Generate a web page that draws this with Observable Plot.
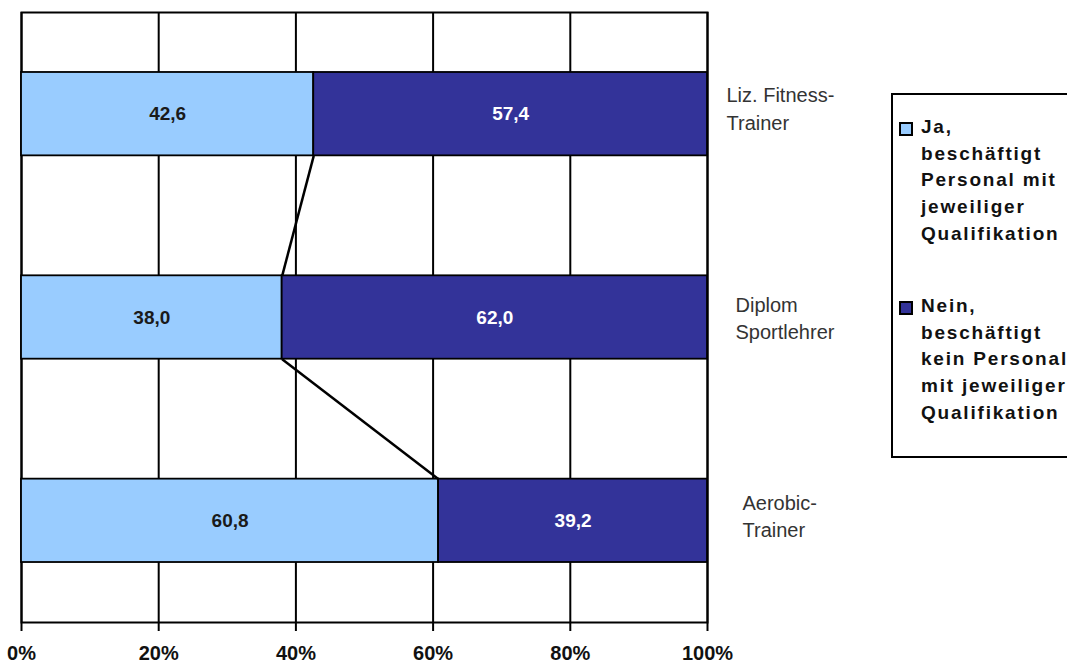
<!DOCTYPE html>
<html>
<head>
<meta charset="utf-8">
<script src="https://cdn.jsdelivr.net/npm/d3@7"></script>
<script src="https://cdn.jsdelivr.net/npm/@observablehq/plot@0.6"></script>
<style>
  html, body { margin: 0; padding: 0; background: #fff; }
  #wrap { position: relative; width: 1067px; height: 663px; overflow: hidden; }
  #legend {
    position: absolute; left: 891px; top: 93px; width: 200px; height: 365px;
    border: 2px solid #000; box-sizing: border-box; background: #fff;
    font-family: "Liberation Sans", Arial, sans-serif; font-weight: bold;
    font-size: 19px; letter-spacing: 1.8px; color: #111;
  }
  .item { position: absolute; left: 28px; white-space: pre; line-height: 26.7px; }
  .sw { position: absolute; left: -22px; top: 8px; width: 10px; height: 10px; border: 2px solid #000; }
</style>
</head>
<body>
<div id="wrap"><div id="chart"></div><div id="legend"></div></div>
<script>
const categories = ["Liz. Fitness-\nTrainer", "Diplom\nSportlehrer", "Aerobic-\nTrainer"];
const jaValues = [42.6, 38.0, 60.8];
const neinValues = [57.4, 62.0, 39.2];
const seriesNames = ["Ja,\nbeschäftigt\nPersonal mit\njeweiliger\nQualifikation",
                     "Nein,\nbeschäftigt\nkein Personal\nmit jeweiliger\nQualifikation"];
const seriesColors = ["#99CCFF", "#333399"];
const xTicks = [0, 20, 40, 60, 80, 100];

const half = 0.205; // half bar thickness in category units
const labelDx = [19, 28, 35];
const labelDy = [-7, -1, -6];
const FONT = "Liberation Sans, Arial, sans-serif";

const rows = [];
categories.forEach((c, i) => {
  rows.push({i, cat: c, series: 0, x1: 0, x2: jaValues[i], v: jaValues[i]});
  rows.push({i, cat: c, series: 1, x1: jaValues[i], x2: jaValues[i] + neinValues[i], v: neinValues[i]});
});
const links = [];
for (let i = 0; i < categories.length - 1; i++) {
  links.push({x1: jaValues[i], y1: i + half, x2: jaValues[i + 1], y2: i + 1 - half});
}
const fmt = v => v.toFixed(1).replace(".", ",");

const chart = Plot.plot({
  width: 1067,
  height: 663,
  marginLeft: 21,
  marginRight: 360,
  marginTop: 12,
  marginBottom: 41,
  style: {fontFamily: FONT, background: "transparent"},
  x: {domain: [0, 100]},
  y: {domain: [-0.5, categories.length - 0.5], reverse: true, axis: null},
  marks: [
    Plot.ruleX(xTicks, {stroke: "#000", strokeWidth: 2}),
    Plot.frame({stroke: "#000", strokeWidth: 2}),
    Plot.rect(rows, {
      x1: "x1", x2: "x2",
      y1: d => d.i - half, y2: d => d.i + half,
      fill: d => seriesColors[d.series],
      stroke: "#000", strokeWidth: 1.8
    }),
    Plot.link(links, {x1: "x1", y1: "y1", x2: "x2", y2: "y2", stroke: "#000", strokeWidth: 2.5}),
    Plot.text(rows, {
      x: d => (d.x1 + d.x2) / 2, y: "i", text: d => fmt(d.v),
      fill: d => d.series === 0 ? "#1a1a1a" : "#ffffff",
      fontSize: 19, fontWeight: "bold"
    }),
    ...categories.map((c, i) => Plot.text([c], {
      x: 100, y: i, text: d => d, textAnchor: "start", dx: labelDx[i], dy: labelDy[i],
      fontSize: 20, fill: "#333", lineHeight: 1.38
    })),
    Plot.axisX(xTicks, {
      tickSize: 9, tickPadding: 14, stroke: "#000", strokeWidth: 2,
      tickFormat: d => d + "%", fontSize: 20, fontWeight: "bold", fill: "#111"
    })
  ]
});
document.getElementById("chart").appendChild(chart);
chart.querySelectorAll("text").forEach(t => { if (t.getAttribute("font-size") === "19") t.style.letterSpacing = "1px"; });

const legend = document.getElementById("legend");
const tops = [19, 198];
seriesNames.forEach((s, k) => {
  const d = document.createElement("div");
  d.className = "item";
  d.style.top = tops[k] + "px";
  d.textContent = s;
  const sw = document.createElement("div");
  sw.className = "sw";
  sw.style.background = seriesColors[k];
  d.appendChild(sw);
  legend.appendChild(d);
});
</script>
</body>
</html>
